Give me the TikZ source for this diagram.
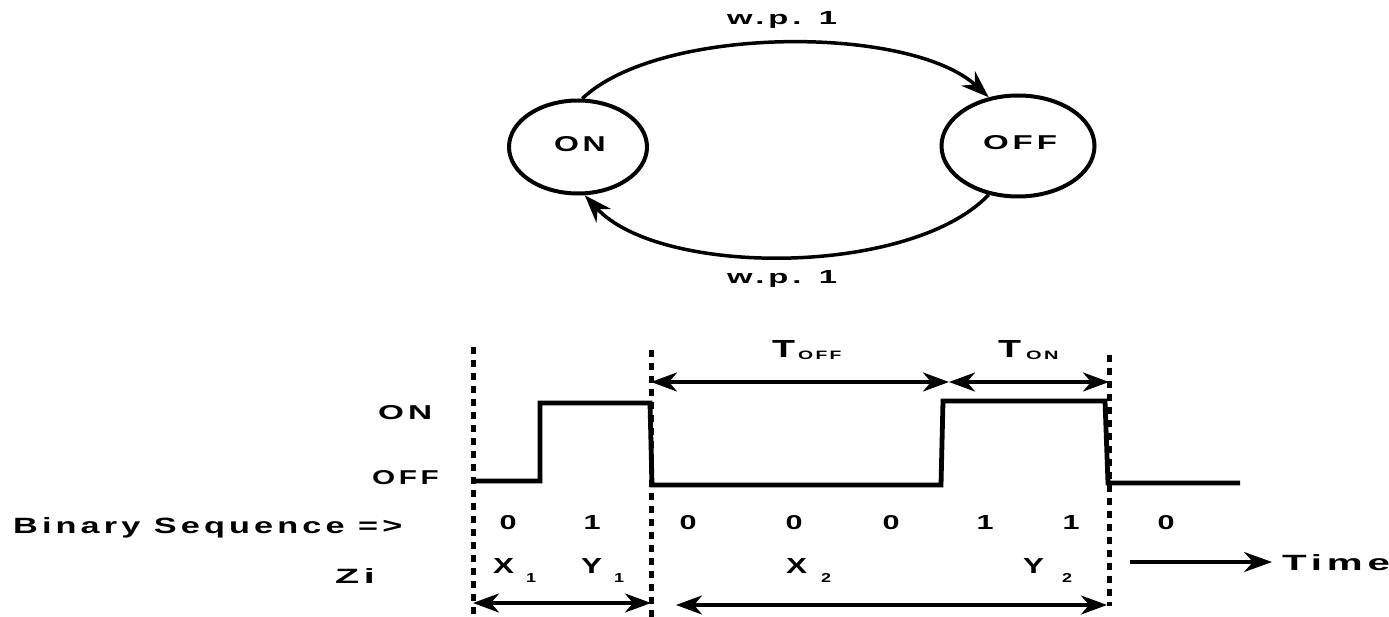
\documentclass[tikz,border=0pt]{standalone}
\usepackage{fontspec}
\usepackage{graphicx}
\setmainfont{Liberation Sans}
\newfontfamily\widefont{Liberation Sans}[LetterSpace=12]
\usetikzlibrary{arrows.meta,shapes.geometric}
\tikzset{
  lbl/.style={inner sep=0pt, anchor=base west},
  digit/.style={inner sep=0pt, anchor=base},
  state/.style={ellipse, draw, line width=4pt, inner sep=0pt},
  arc/.style={line width=3.5pt, -{Stealth[length=28pt,width=20pt,inset=9pt]}},
  dim/.style={line width=3.5pt, {Stealth[length=26pt,width=19pt,inset=8pt]}-{Stealth[length=26pt,width=19pt,inset=8pt]}},
  timearrow/.style={line width=3.5pt, -{Stealth[length=28pt,width=20pt,inset=9pt]}},
  wave/.style={line width=4.8pt, line join=miter},
  dashline/.style={line width=5pt, dash pattern=on 7pt off 6pt},
}
% fit text to a measured width and cap height
\newcommand{\fittxt}[3]{\resizebox{#1pt}{#2pt}{\widefont\bfseries\fontsize{20}{20}\selectfont #3\kern-0.12em}}
\newcommand{\plainfit}[3]{\resizebox{#1pt}{#2pt}{\bfseries\fontsize{20}{20}\selectfont #3}}
\newcommand{\subtxt}[2]{\kern#1\raisebox{-9pt}{\plainfit{10}{9}{#2}}}
\begin{document}
\begin{tikzpicture}[x=1pt,y=-1pt]
\useasboundingbox (0,0) rectangle (1389,617);
% state diagram
\node[state, minimum width=138pt, minimum height=93pt] (on) at (578,147)
  {\raisebox{6.5pt}{\fittxt{48}{15}{ON}}};
\node[state, minimum width=153pt, minimum height=101pt] (off) at (1018,146)
  {\raisebox{7.5pt}{\fittxt{70}{14}{OFF}}};
\draw[arc] (on.85) .. controls (660,25) and (910,25) .. (off.121);
\draw[arc] (off.239) .. controls (910,277) and (660,277) .. (on.278);
\node[lbl] (wp1) at (727,25) {\fittxt{106}{13}{w.p. 1}};
\node[lbl] (wp2) at (727,284) {\fittxt{106}{13}{w.p. 1}};
% dashed separators
\coordinate (d1t) at (473,347); \coordinate (d1b) at (473,617);
\coordinate (d2t) at (651,350); \coordinate (d2b) at (651,617);
\coordinate (d3t) at (1109,355); \coordinate (d3b) at (1109,606);
\draw[dashline] (d1t) -- (d1b);
\draw[dashline] (d2t) -- (d2b);
\draw[dashline] (d3t) -- (d3b);
% waveform
\draw[wave] (473,481) -- (540,481) -- (540,403) -- (650,403) -- (652,485) -- (941,485)
  -- (943,401) -- (1105,401) -- (1108,483) -- (1240,483);
% levels
\node[lbl] (lon) at (378,419) {\fittxt{50}{14}{ON}};
\node[lbl] (loff) at (372,484) {\fittxt{63}{14}{OFF}};
% dimension arrows
\coordinate (tm) at (949,382);
\coordinate (ta) at (651,382);
\coordinate (tb) at (1109,382);
\draw[dim] (ta) -- (tm);
\draw[dim] (tm) -- (tb);
\node[lbl] (toff) at (772,357)
  {\plainfit{23}{17}{T}\kern3pt\raisebox{-3pt}{\fittxt{41}{8.5}{OFF}}};
\node[lbl] (ton) at (998,357)
  {\plainfit{23}{17}{T}\kern5pt\raisebox{-3pt}{\fittxt{30}{8.5}{ON}}};
% binary sequence
\node[lbl] (bs) at (13,533) {\fittxt{385}{16}{Binary Sequence =>}};
\foreach \x/\v [count=\i] in {508/0,592/1,688/0,794/0,891/0,985/1,1071/1,1166/0}
  \node[digit] (b\i) at (\x,529) {\plainfit{17}{14}{\v}};
% Zi row
\node[lbl] (zi) at (335,583) {\fittxt{35}{15}{Zi}};
\node[lbl] (x1) at (493,573) {\plainfit{21}{15}{X}\subtxt{12pt}{1}};
\node[lbl] (y1) at (581,573) {\plainfit{21}{15}{Y}\subtxt{12pt}{1}};
\node[lbl] (x2) at (786,573) {\plainfit{21}{15}{X}\subtxt{14pt}{2}};
\node[lbl] (y2) at (1023,573) {\plainfit{21}{15}{Y}\subtxt{18pt}{2}};
\coordinate (ts) at (1130,562); \coordinate (te) at (1272,562);
\draw[timearrow] (ts) -- (te);
\node[lbl] (time) at (1282,570) {\fittxt{103}{16}{Time}};
% bottom arrows
\coordinate (ba) at (473,603); \coordinate (bb) at (651,603);
\coordinate (bc) at (676,605); \coordinate (bd) at (1107,605);
\draw[dim] (ba) -- (bb);
\draw[dim] (bc) -- (bd);
\end{tikzpicture}
\end{document}
